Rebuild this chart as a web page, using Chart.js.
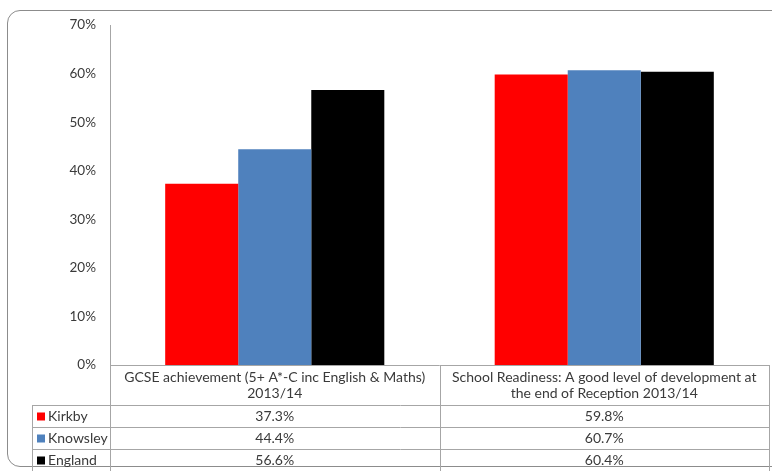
<!DOCTYPE html>
<html>
<head>
<meta charset="utf-8">
<script src="https://cdn.jsdelivr.net/npm/chart.js@4"></script>
<style>
  html, body { margin: 0; padding: 0; background: #fff; overflow: hidden; }
  #wrap { position: relative; width: 772px; height: 471px; }
  #frame { position: absolute; left: 7px; top: 10px; width: 800px; height: 457px;
           border: 1.5px solid #8c8c8c; border-radius: 13px; box-sizing: border-box; }
  canvas { position: absolute; left: 0; top: 0; }
</style>
</head>
<body>
<div id="wrap">
  <div id="frame"></div>
  <canvas id="myChart" width="772" height="471"></canvas>
</div>
<script>
// categories, split the way the reference wraps them
const categories = [
  ["GCSE achievement (5+ A*-C inc English & Maths)", "2013/14"],
  ["School Readiness: A good level of development at", "the end of Reception 2013/14"]
];
const seriesNames = ["Kirkby", "Knowsley", "England"];
const kirkby = [37.3, 59.8];
const knowsley = [44.4, 60.7];
const england = [56.6, 60.4];
const yTicks = [0, 10, 20, 30, 40, 50, 60, 70];

const colors = ["#ff0000", "#4f81bd", "#000000"];
const textColor = "#3a3a3a";
const lineColor = "#a6a6a6";
const fontFamily = "Lato, 'Open Sans', sans-serif";

// draws the data table under the plot, like Excel does
const dataTable = {
  id: "dataTable",
  afterDraw(chart) {
    const ctx = chart.ctx;
    const area = chart.chartArea;
    const xs = chart.scales.x;
    const catW = (area.right - area.left) / categories.length;
    const colLeft = 32;
    const headBottom = area.bottom + 40;
    const rowH = 22;
    const bottom = 475;

    ctx.save();
    ctx.strokeStyle = lineColor;
    ctx.lineWidth = 1;
    ctx.beginPath();
    // vertical lines
    ctx.moveTo(area.left + 0.5, area.bottom);
    ctx.lineTo(area.left + 0.5, bottom);
    for (let i = 0; i < categories.length; i++) {
      const xr = Math.round(xs.getPixelForValue(i) + catW / 2) + 0.5;
      ctx.moveTo(xr, area.bottom);
      ctx.lineTo(xr, bottom);
    }
    ctx.moveTo(colLeft + 0.5, headBottom);
    ctx.lineTo(colLeft + 0.5, bottom);
    // horizontal lines
    ctx.moveTo(area.left, area.bottom + 0.5);
    ctx.lineTo(area.right, area.bottom + 0.5);
    for (let r = 0; r <= seriesNames.length; r++) {
      const yy = Math.round(headBottom + r * rowH) + 0.5;
      ctx.moveTo(colLeft, yy);
      ctx.lineTo(area.right, yy);
    }
    ctx.stroke();

    ctx.font = "14px " + fontFamily;
    ctx.fillStyle = textColor;
    ctx.textAlign = "center";
    ctx.textBaseline = "middle";
    categories.forEach((lines, i) => {
      const cx = xs.getPixelForValue(i);
      lines.forEach((ln, j) => ctx.fillText(ln, cx, area.bottom + 12 + j * 16));
    });

    chart.data.datasets.forEach((ds, r) => {
      const cy = headBottom + r * rowH + rowH / 2 + 0.5;
      ds.data.forEach((v, i) => {
        ctx.fillStyle = textColor;
        ctx.textAlign = "center";
        ctx.fillText(v.toFixed(1) + "%", xs.getPixelForValue(i), cy);
      });
      ctx.fillStyle = ds.backgroundColor;
      ctx.fillRect(colLeft + 5, cy - 4, 8, 8);
      ctx.fillStyle = textColor;
      ctx.textAlign = "left";
      ctx.fillText(ds.label, colLeft + 16, cy);
    });
    ctx.restore();
  }
};

const ctx = document.getElementById("myChart").getContext("2d");
const myChart = new Chart(ctx, {
  type: "bar",
  data: {
    labels: categories.map(c => c.join(" ")),
    datasets: [
      { label: seriesNames[0], data: kirkby, backgroundColor: colors[0] },
      { label: seriesNames[1], data: knowsley, backgroundColor: colors[1] },
      { label: seriesNames[2], data: england, backgroundColor: colors[2] }
    ]
  },
  options: {
    responsive: false,
    animation: false,
    events: [],
    layout: { padding: { left: 0, right: 3, top: 25, bottom: 106 } },
    datasets: { bar: { categoryPercentage: 0.665, barPercentage: 1.0 } },
    plugins: { legend: { display: false }, tooltip: { enabled: false } },
    scales: {
      x: { display: false },
      y: {
        min: 0,
        max: 70,
        afterFit(scale) { scale.width = 110; },
        afterBuildTicks(scale) { scale.ticks = yTicks.map(v => ({ value: v })); },
        grid: { display: false, drawTicks: false },
        border: { display: true, color: lineColor, width: 1 },
        ticks: {
          padding: 14,
          color: textColor,
          font: { family: fontFamily, size: 13.5 },
          callback: v => v + "%"
        }
      }
    }
  },
  plugins: [dataTable]
});
</script>
</body>
</html>
